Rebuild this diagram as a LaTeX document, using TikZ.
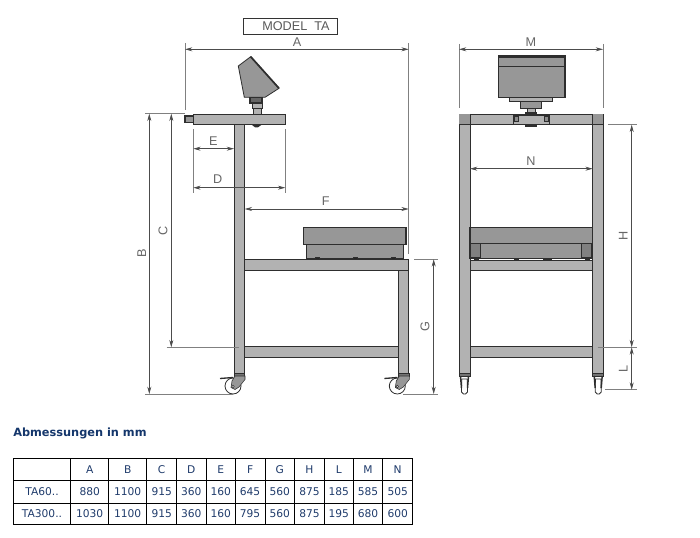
\documentclass[tikz,border=0pt]{standalone}
\usepackage{fontspec}
\setmainfont{DejaVu Sans}
\newfontfamily\dimfont{Liberation Sans}
\usetikzlibrary{arrows.meta}
\definecolor{tabletext}{HTML}{1F3B6B}
\definecolor{headtext}{HTML}{14366B}
\definecolor{steel}{HTML}{B2B2B2}
\definecolor{steeldark}{HTML}{979797}
\definecolor{edge}{HTML}{2E2E2E}
\tikzset{
  part/.style={draw=edge,fill=steel,line width=0.7pt},
  partdark/.style={draw=edge,fill=steeldark,line width=0.8pt},
  blackpart/.style={draw=edge,fill=black!85,line width=0.3pt},
  dim/.style={draw=black!70,line width=0.5pt,{Stealth[length=5.5pt,width=3pt]}-{Stealth[length=5.5pt,width=3pt]}},
  ext/.style={draw=black!50,line width=0.45pt},
  dimlabel/.style={font=\dimfont\fontsize{9.5}{11}\selectfont,text=black!60,inner sep=0pt},
  cell/.style={font=\fontsize{8}{10}\selectfont,text=tabletext,inner sep=0pt},
  grid/.style={draw=black,line width=0.7pt}
}
\begin{document}
\begin{tikzpicture}[x=0.75pt,y=-0.75pt]
  \useasboundingbox (0,0) rectangle (700,538);

  % title box
  \node[draw=black!80,line width=0.6pt,minimum width=71pt,minimum height=12pt,inner sep=0pt] (titlebox) at (290.5,26) {};
  \node[font=\dimfont\fontsize{9.5}{11}\selectfont,text=black!65,inner sep=0pt] (title) at (296,26) {MODEL\ \ TA};

  % side view: display
  \fill[steeldark,draw=edge,line width=0.6pt] (250.7,56.7) -- (238.3,66) -- (244.3,97.3) -- (265,97.3) -- (279,88.3) -- cycle;
  \draw[edge,line width=1.3pt] (250.7,56.7) -- (279,88.3);
  \draw[partdark,fill=black!60] (250,97.3) rectangle (262,103);
  \draw[part] (252,103) rectangle (262,108.5);
  \draw[part] (253.3,108.5) rectangle (261,114);

  % side view: frame
  \draw[part] (234,124.7) rectangle (244.7,373);
  \draw[part] (398.3,270) rectangle (408.7,373);
  \draw[part] (244.7,259.3) rectangle (408.7,270);
  \draw[part] (244.7,346.7) rectangle (398.3,357.7);
  \draw[part] (193.3,114) rectangle (285.3,124.7);
  \draw[partdark] (185,116) rectangle (193.3,122.7);
  \fill[edge] (251.7,124.7) -- (261.7,124.7) -- (258,127.3) -- (255,127.3) -- cycle;

  % side view: scale
  \draw[partdark] (306.7,244.3) rectangle (403.3,258.3);
  \draw[partdark] (303.3,227.7) rectangle (406,244.3);
  \foreach \xfoot in {316.7,354.7,393}
    \draw[blackpart] (\xfoot-2,257.5) rectangle (\xfoot+2,259.3);

  % side view: casters
  \foreach \dx in {0,164.3} {
    \begin{scope}[shift={(\dx,0)}]
      \draw[part,fill=black!55] (234,373) rectangle (244.7,376);
      \draw[draw=edge,fill=white,line width=0.6pt] (233,386) circle (8);
      \fill[steeldark,draw=edge,line width=0.4pt] (235,376) -- (245,376) -- (245,379.5) -- (239,387) -- (235,389.5) -- (231,387.5) -- (232,381) -- cycle;
      \draw[edge,line width=1pt] (220,378.5) -- (233,377.5);
      \draw[draw=edge,fill=white,line width=0.4pt] (233,386.5) circle (1.3);
    \end{scope}
  }

  % front view: display
  \draw[partdark] (498.3,55.7) rectangle (565,97.7);
  \fill[edge] (498.3,55.7) rectangle (565,58.2);
  \draw[edge,line width=0.7pt] (498.3,66) -- (565,66);
  \draw[part] (509.3,97.7) rectangle (552.7,101.3);
  \draw[partdark] (520.7,101.3) rectangle (541.7,108.7);
  \draw[part] (527,108.7) rectangle (535,112.5);
  \fill[edge] (525,112.5) rectangle (537,114);

  % front view: frame
  \draw[part] (459,114) rectangle (603,124.7);
  \draw[part] (459,124.7) rectangle (470,373);
  \draw[part] (592.7,124.7) rectangle (603,373);
  \draw[edge,line width=0.6pt] (470,114) -- (470,124.7);
  \draw[edge,line width=0.6pt] (592.7,114) -- (592.7,124.7);
  \fill[steeldark] (459.4,114.4) rectangle (469.6,124.3);
  \fill[steeldark] (593.1,114.4) rectangle (602.6,124.3);
  \draw[part] (513.3,115.5) rectangle (549,124);
  \foreach \xbolt in {516,546}
    \draw[blackpart,fill=black!45] (\xbolt-1.7,116.5) rectangle (\xbolt+1.7,121.5);
  \fill[edge] (525,124.7) rectangle (537,126.7);
  \draw[part] (470,260) rectangle (592.7,270);
  \draw[part] (470,346.7) rectangle (592.7,357.7);

  % front view: scale
  \draw[partdark] (470,243.3) rectangle (592.7,258.3);
  \draw[partdark,fill=black!50] (470.7,243.3) rectangle (480.7,258);
  \draw[partdark,fill=black!50] (581.7,243.3) rectangle (591.7,258);
  \draw[partdark] (470,227.7) rectangle (592.7,243.3);
  \foreach \xfoot/\wfoot in {475.7/2,515.7/2,546.7/4,586.7/2}
    \draw[blackpart] (\xfoot-\wfoot,257.8) rectangle (\xfoot+\wfoot,259.5);

  % front view: casters
  \foreach \dx in {0,133.7} {
    \begin{scope}[shift={(\dx,0)}]
      \draw[part,fill=black!55] (459,373) rectangle (470,376);
      \draw[draw=edge,fill=white,line width=0.6pt] (461.7,379) -- (467.3,379) -- (467.5,392) -- (465.5,394) -- (463.5,394) -- (461.5,392) -- cycle;
      \draw[edge,line width=1.1pt] (460.5,376) -- (461.5,388);
      \draw[edge,line width=1.1pt] (468.5,376) -- (467.5,388);
    \end{scope}
  }

  % dimension points
  \coordinate (al) at (185,49.3);
  \coordinate (ar) at (408.7,49.3);
  \coordinate (altop) at (185,43);
  \coordinate (alend) at (185,110);
  \coordinate (artop) at (408.7,43);
  \coordinate (arend) at (408.7,254);
  \coordinate (bt) at (149.3,113.7);
  \coordinate (bb) at (149.3,394);
  \coordinate (ct) at (171.3,113.7);
  \coordinate (cb) at (171.3,347.3);
  \coordinate (topl) at (145,113.7);
  \coordinate (topr) at (185,113.7);
  \coordinate (cl) at (166.7,347.3);
  \coordinate (cr) at (239,347.3);
  \coordinate (bl) at (145,394);
  \coordinate (br) at (233,394);
  \coordinate (el) at (193.3,148.7);
  \coordinate (er) at (234,148.7);
  \coordinate (dl) at (193.3,187.7);
  \coordinate (dr) at (285.3,187.7);
  \coordinate (dlt) at (193.3,129);
  \coordinate (dlb) at (193.3,192.7);
  \coordinate (drt) at (285.3,129);
  \coordinate (drb) at (285.3,192.7);
  \coordinate (fl) at (244.7,209);
  \coordinate (fr) at (408.7,209);
  \coordinate (gt) at (433.7,259.3);
  \coordinate (gb) at (433.7,394);
  \coordinate (gtl) at (414,259.3);
  \coordinate (gtr) at (438,259.3);
  \coordinate (gbl) at (403,394);
  \coordinate (gbr) at (438,394);
  \coordinate (ml) at (459,49.3);
  \coordinate (mr) at (603,49.3);
  \coordinate (mlt) at (459,44);
  \coordinate (mlb) at (459,108);
  \coordinate (mrt) at (603,44);
  \coordinate (mrb) at (603,108);
  \coordinate (nl) at (470,168.7);
  \coordinate (nr) at (592.7,168.7);
  \coordinate (ht) at (631.7,124.7);
  \coordinate (hb) at (631.7,347.3);
  \coordinate (lt) at (631.7,347.3);
  \coordinate (lb) at (631.7,389.7);
  \coordinate (htl) at (608,124.7);
  \coordinate (htr) at (636.7,124.7);
  \coordinate (hbl) at (597.7,347.3);
  \coordinate (hbr) at (636.7,347.3);
  \coordinate (lbl) at (605,389.7);
  \coordinate (lbr) at (636.7,389.7);

  % extension lines
  \draw[ext] (altop) to (alend);
  \draw[ext] (artop) to (arend);
  \draw[ext] (topl) to (topr);
  \draw[ext] (cl) to (cr);
  \draw[ext] (bl) to (br);
  \draw[ext] (dlt) to (dlb);
  \draw[ext] (drt) to (drb);
  \draw[ext] (gtl) to (gtr);
  \draw[ext] (gbl) to (gbr);
  \draw[ext] (mlt) to (mlb);
  \draw[ext] (mrt) to (mrb);
  \draw[ext] (htl) to (htr);
  \draw[ext] (hbl) to (hbr);
  \draw[ext] (lbl) to (lbr);

  % dimensions
  \draw[dim] (al) to (ar);
  \draw[dim] (bt) to (bb);
  \draw[dim] (ct) to (cb);
  \draw[dim] (dl) to (dr);
  \draw[dim] (el) to (er);
  \draw[dim] (fl) to (fr);
  \draw[dim] (gt) to (gb);
  \draw[dim] (ht) to (hb);
  \draw[dim] (lt) to (lb);
  \draw[dim] (ml) to (mr);
  \draw[dim] (nl) to (nr);

  \node[dimlabel] (laba) at (297,41.7) {A};
  \node[dimlabel,rotate=90] (labb) at (141.7,253.3) {B};
  \node[dimlabel,rotate=90] (labc) at (163,230.7) {C};
  \node[dimlabel] (labd) at (217.7,179.3) {D};
  \node[dimlabel] (labe) at (213.3,141.3) {E};
  \node[dimlabel] (labf) at (325.7,200.7) {F};
  \node[dimlabel,rotate=90] (labg) at (425,326.7) {G};
  \node[dimlabel,rotate=90] (labh) at (623.3,235.7) {H};
  \node[dimlabel,rotate=90] (labl) at (623.3,369) {L};
  \node[dimlabel] (labm) at (531,41.7) {M};
  \node[dimlabel] (labn) at (531,160.7) {N};

  % table
  \node[anchor=west,inner sep=0pt,text=headtext,font=\bfseries\fontsize{8.5}{10}\selectfont] (heading) at (13,433) {Abmessungen in mm};

  \foreach \xgrid in {13.3,70.7,108.7,146.7,176.7,206,235.3,265,294.7,324.3,353.3,382.7,412.7}
    \draw[grid] (\xgrid,458.3) -- (\xgrid,524.7);
  \foreach \ygrid in {458.3,480.3,503,524.7}
    \draw[grid] (13,\ygrid) -- (413,\ygrid);

  \node[cell] (rowa) at (42,491.7) {TA60..};
  \node[cell] (rowb) at (42,513.9) {TA300..};
  \foreach \xcell/\hd/\vala/\valb in {89.7/A/880/1030,127.7/B/1100/1100,161.7/C/915/915,191.3/D/360/360,220.7/E/160/160,250.1/F/645/795,279.8/G/560/560,309.5/H/875/875,338.8/L/185/195,368/M/585/680,397.7/N/505/600} {
    \node[cell] (head\hd) at (\xcell,469.3) {\hd};
    \node[cell] (a\hd) at (\xcell,491.7) {\vala};
    \node[cell] (b\hd) at (\xcell,513.9) {\valb};
  }
\end{tikzpicture}
\end{document}
